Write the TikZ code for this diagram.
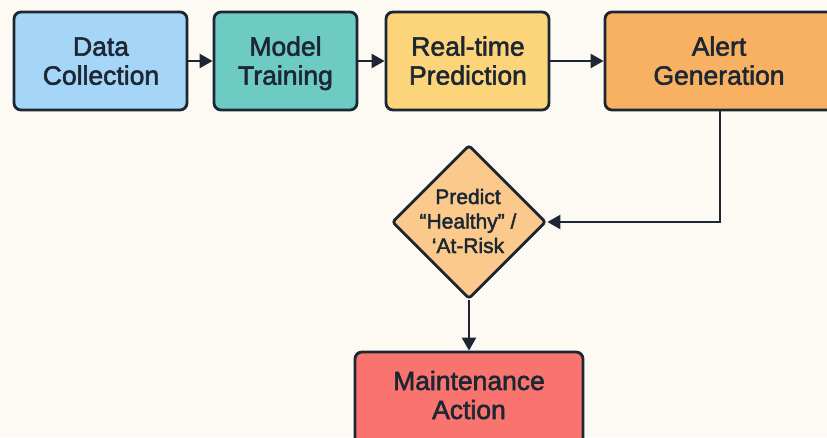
\documentclass[tikz,border=0pt]{standalone}
\usepackage{fontspec}
\setmainfont{Liberation Sans}[FakeBold=2]
\usetikzlibrary{shapes.geometric,arrows.meta}
\definecolor{bg}{HTML}{FDF9F3}
\definecolor{ink}{HTML}{1C2733}
\definecolor{cblue}{HTML}{A6D6F7}
\definecolor{cteal}{HTML}{6ECBC4}
\definecolor{cyellow}{HTML}{FCD479}
\definecolor{corange}{HTML}{F8B162}
\definecolor{cdiam}{HTML}{FAC98B}
\definecolor{cred}{HTML}{F9736F}
\tikzset{
  box/.style={draw=ink, line width=2.8pt, rounded corners=7pt, inner sep=0pt,
    minimum height=98pt},
  lbl/.style={align=center, inner sep=0pt, text=ink,
    font=\fontsize{26.5}{29}\selectfont},
  dec/.style={draw=ink, line width=2.8pt, diamond, rounded corners=3pt, inner sep=0pt,
    minimum width=154pt, minimum height=154pt, aspect=1, fill=cdiam},
  dlbl/.style={align=center, inner sep=0pt, text=ink,
    font=\fontsize{21}{24.5}\selectfont},
  conn/.style={draw=ink, line width=2.5pt, -{Triangle[length=13pt,width=14pt]}}
}
\begin{document}
\begin{tikzpicture}[x=1pt,y=-1pt]
\useasboundingbox (0,0) rectangle (827,437);
\fill[bg] (0,0) rectangle (827,437);
\clip (0,0) rectangle (827,437);
\node[box, fill=cblue, minimum width=173pt] (dc) at (100.5,61) {};
\node[lbl] (dct) at (101,64.4) {Data\strut\\Collection\strut};
\node[box, fill=cteal, minimum width=143pt] (mt) at (285.5,61) {};
\node[lbl] (mtt) at (285.5,64.4) {Model\strut\\Training\strut};
\node[box, fill=cyellow, minimum width=163pt] (rp) at (467.5,61) {};
\node[lbl] (rpt) at (468,64.4) {Real-time\strut\\Prediction\strut};
\node[box, fill=corange, minimum width=232pt] (ag) at (721,61) {};
\node[lbl] (agt) at (719,64.4) {Alert\strut\\Generation\strut};
\node[dec] (pd) at (469,222) {};
\node[dlbl] (pdt) at (468,223.6) {Predict\strut\\“Healthy” /\strut\\‘At-Risk\strut};
\node[box, fill=cred, minimum width=228pt] (ma) at (469,401) {};
\node[lbl] (mat) at (469,398.7) {Maintenance\strut\\Action\strut};
\draw[conn] (dc) -- (mt);
\draw[conn] (mt) -- (rp);
\draw[conn] (rp) -- (ag);
\coordinate (agb) at (720,110);
\draw[conn] (agb) |- (pd.east);
\draw[conn] (pd) -- (ma);
\end{tikzpicture}
\end{document}
